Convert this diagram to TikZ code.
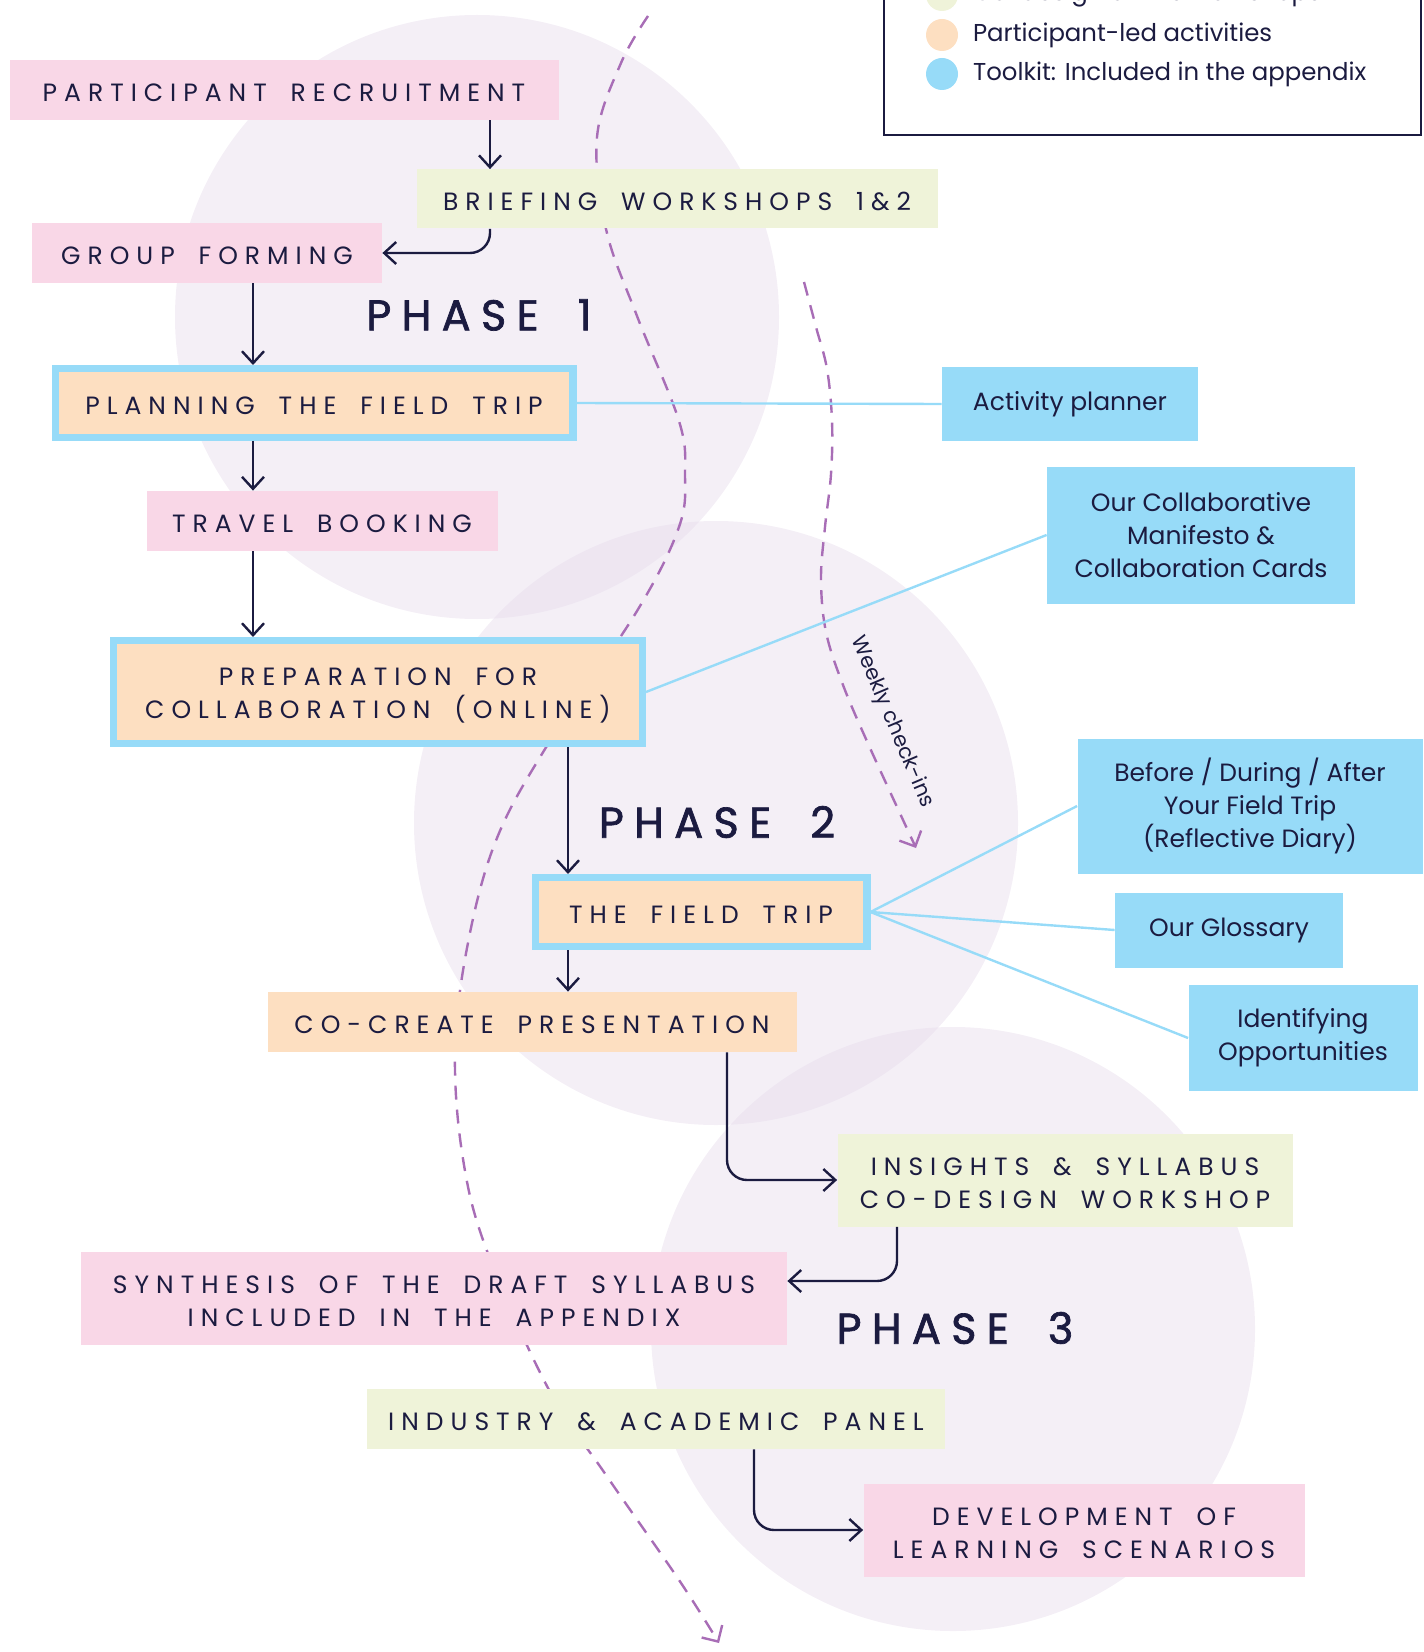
\documentclass[tikz,border=0pt]{standalone}
\usepackage{fontspec}
\setmainfont{Poppins}
\newfontfamily\capsfont[LetterSpace=28, WordSpace=1.75]{Poppins}
\newfontfamily\phasefont[LetterSpace=24, WordSpace=1.8, FakeBold=1.6]{Poppins}
\usetikzlibrary{arrows.meta}

\definecolor{ink}{HTML}{1B1B40}
\definecolor{blush}{HTML}{F9D7E7}
\definecolor{sage}{HTML}{EFF3D9}
\definecolor{peach}{HTML}{FDDFC1}
\definecolor{sky}{HTML}{97DBF8}
\definecolor{lilac}{HTML}{E6DBEB}
\definecolor{plum}{HTML}{A86DB6}

\tikzset{
  box/.style={rectangle, inner sep=0pt, align=center, text=ink, text height=11.5pt,
    font=\capsfont\fontsize{12.5}{16.5}\selectfont},
  twoline/.style={text height=28.5pt},
  meeting/.style={box, fill=blush},
  workshop/.style={box, fill=sage},
  selfled/.style={box, fill=peach},
  framed/.style={selfled, draw=sky, line width=3.7pt},
  tool/.style={rectangle, fill=sky, inner sep=0pt, align=center, text=ink,
    font=\fontsize{12.5}{16.5}\selectfont},
  phase/.style={text=ink, font=\phasefont\fontsize{21.5}{26}\selectfont},
  flow/.style={draw=ink, line width=1.2pt, rounded corners=10pt,
    -{Straight Barb[length=6pt,width=11pt]}},
  link/.style={draw=sky, line width=1.2pt},
  checkin/.style={draw=plum, line width=1.2pt, dash pattern=on 7pt off 5pt,
    -{Straight Barb[length=6pt,width=12pt]}},
  keydot/.style={circle, minimum size=16pt, inner sep=0pt},
  keytext/.style={anchor=west, text=ink, font=\fontsize{12.2}{15}\selectfont},
}

\begin{document}
\begin{tikzpicture}[x=0.5pt, y=-0.5pt]
\useasboundingbox (0,0) rectangle (1423,1652);

% phase circles
\fill[lilac, fill opacity=0.45] (477,317) circle (302);
\fill[lilac, fill opacity=0.45] (716,823) circle (302);
\fill[lilac, fill opacity=0.45] (953,1329) circle (302);

% dashed timelines
\draw[checkin] plot[smooth, tension=0.6] coordinates {(648,16) (621,63) (597,137)
  (606,229) (637,316) (679,421) (685,474) (679,527) (637,611) (545,749) (495,843)
  (467,948) (455,1053) (463,1159) (487,1251) (548,1388) (606,1475) (679,1580) (719,1643)};
\draw[checkin] plot[smooth, tension=0.6] coordinates {(804,282) (816,327) (827,369)
  (832,421) (831,474) (825,527) (821,579) (826,632) (843,685) (870,748) (916,848)};
\node[rotate=-67, text=ink, font=\fontsize{10.5}{13}\selectfont] (weekly) at (892,722) {Weekly check-ins};

% legend
\draw[ink, line width=0.8pt] (884,-30) rectangle (1421,135);
\node[keydot, fill=sage] (keysage) at (942,-5) {};
\node[keydot, fill=peach] (keypeach) at (942,35) {};
\node[keydot, fill=sky] (keysky) at (942,74) {};
\node[keytext] (legsage) at (966,-5) {Co-design online workshops};
\node[keytext] (legpeach) at (966,35) {Participant-led activities};
\node[keytext] (legsky) at (966,74) {Toolkit: Included in the appendix};

% phase 1
\node[meeting, minimum width=274.5pt, minimum height=30pt] (recruit) at (284,90) {PARTICIPANT RECRUITMENT};
\node[workshop, minimum width=260.5pt, minimum height=29.5pt] (briefing) at (677,199) {BRIEFING WORKSHOPS 1\&2};
\node[meeting, minimum width=175pt, minimum height=30pt] (group) at (207,253) {GROUP FORMING};
\node[phase] (phase1) at (479,315) {PHASE 1};
\node[framed, minimum width=258.8pt, minimum height=34.3pt] (planning) at (314,403) {PLANNING THE FIELD TRIP};
\node[meeting, minimum width=175.5pt, minimum height=30pt] (travel) at (322,521) {TRAVEL BOOKING};
\node[framed, twoline, minimum width=264.3pt, minimum height=51.3pt] (prep) at (378,692) {PREPARATION FOR\\COLLABORATION (ONLINE)};

% phase 2
\node[phase] (phase2) at (717,822) {PHASE 2};
\node[framed, minimum width=165.8pt, minimum height=34.3pt] (fieldtrip) at (701,912) {THE FIELD TRIP};
\node[selfled, minimum width=264.5pt, minimum height=30pt] (cocreate) at (532,1022) {CO-CREATE PRESENTATION};

% phase 3
\node[workshop, twoline, minimum width=227.5pt, minimum height=46.5pt] (insights) at (1065,1180) {INSIGHTS \& SYLLABUS\\CO-DESIGN WORKSHOP};
\node[meeting, twoline, minimum width=353pt, minimum height=46.5pt] (synthesis) at (434,1298) {SYNTHESIS OF THE DRAFT SYLLABUS\\INCLUDED IN THE APPENDIX};
\node[phase] (phase3) at (955,1328) {PHASE 3};
\node[workshop, minimum width=289pt, minimum height=30pt] (industry) at (656,1419) {INDUSTRY \& ACADEMIC PANEL};
\node[meeting, twoline, minimum width=220.5pt, minimum height=46.5pt] (development) at (1084,1530) {DEVELOPMENT OF\\LEARNING SCENARIOS};

% toolkit
\node[tool, minimum width=128pt, minimum height=37pt] (activity) at (1070,404) {Activity planner};
\node[tool, minimum width=154pt, minimum height=68.5pt] (manifesto) at (1201,535) {Our Collaborative\\Manifesto \&\\Collaboration Cards};
\node[tool, minimum width=172.5pt, minimum height=67.5pt] (diary) at (1250,806) {Before / During / After\\Your Field Trip\\(Reflective Diary)};
\node[tool, minimum width=114pt, minimum height=37.5pt] (glossary) at (1229,930) {Our Glossary};
\node[tool, minimum width=114.5pt, minimum height=53pt] (identifying) at (1303,1038) {Identifying\\Opportunities};

% columns for the arrows
\coordinate (colR) at (490,0);
\coordinate (colA) at (253,0);
\coordinate (colB) at (568,0);
\coordinate (colC) at (727,0);
\coordinate (colD) at (897,0);
\coordinate (colE) at (754,0);

\draw[flow] (recruit.south -| colR) -- (briefing.north -| colR);
\draw[flow] (briefing.south -| colR) |- (group.east);
\draw[flow] (group.south -| colA) -- (planning.north -| colA);
\draw[flow] (planning.south -| colA) -- (travel.north -| colA);
\draw[flow] (travel.south -| colA) -- (prep.north -| colA);
\draw[flow] (prep.south -| colB) -- (fieldtrip.north -| colB);
\draw[flow] (fieldtrip.south -| colB) -- (cocreate.north -| colB);
\draw[flow] (cocreate.south -| colC) |- (insights.west);
\draw[flow] (insights.south -| colD) |- ([yshift=8.5pt]synthesis.east);
\draw[flow] (industry.south -| colE) |- (development.west);

\draw[link] (planning.east) -- (activity.west);
\draw[link] (prep.east) -- (manifesto.west);
\draw[link] (fieldtrip.east) -- (diary.west);
\draw[link] (fieldtrip.east) -- (glossary.west);
\draw[link] (fieldtrip.east) -- (identifying.west);
\end{tikzpicture}
\end{document}
